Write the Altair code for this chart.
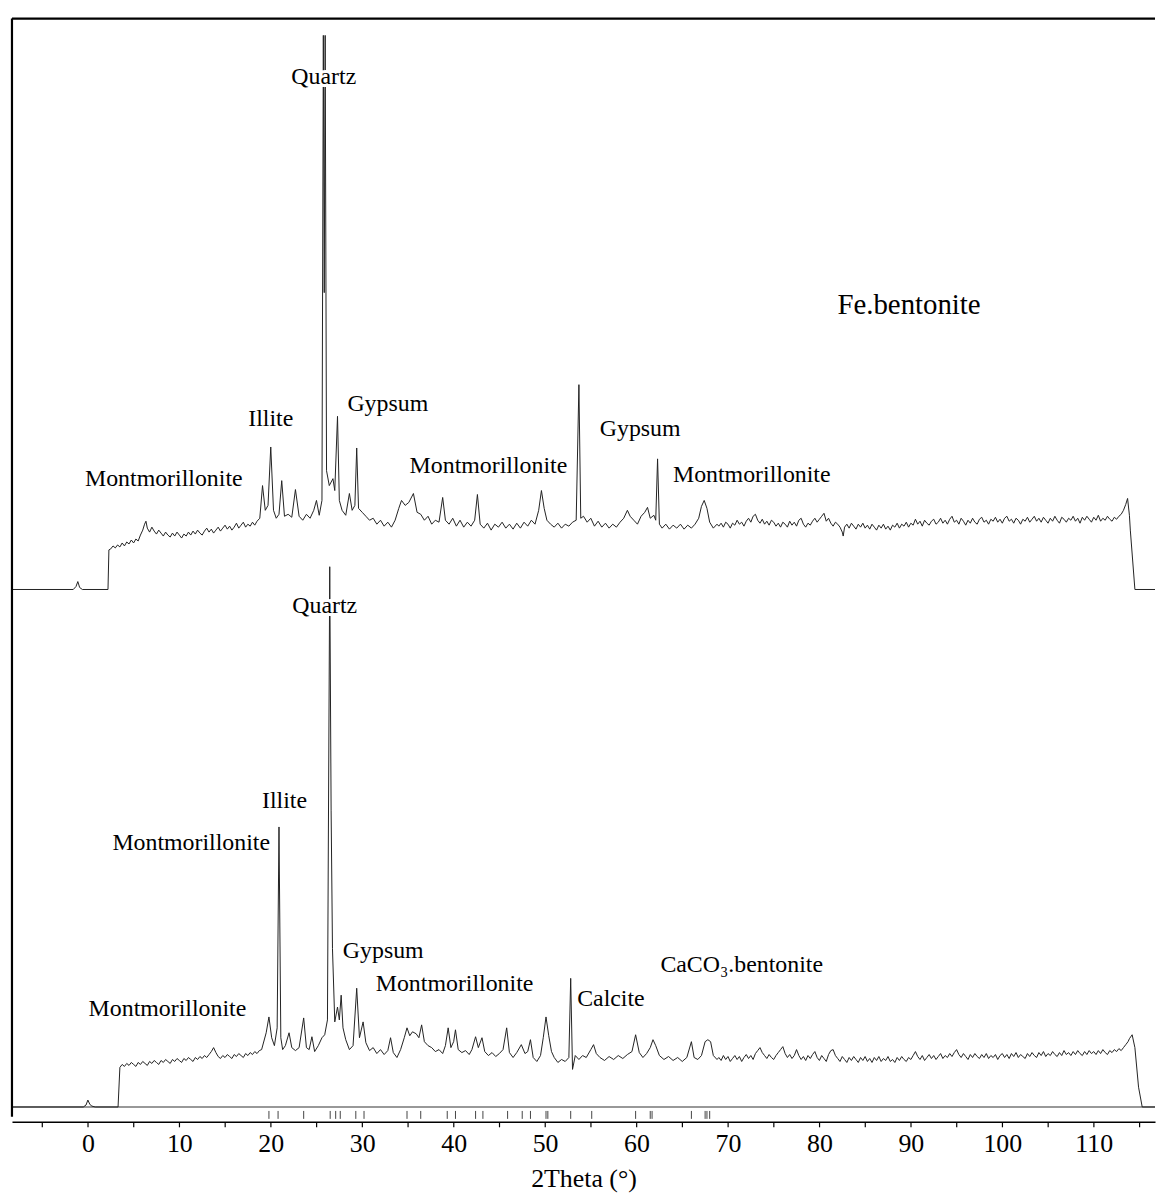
import altair as alt
import pandas as pd

# ---------------- data ----------------
# Fe.bentonite scan: (2theta, intensity above its own baseline)
fe_scan = [
    (-8.3, 0), (-1.6, 0), (-1.3, 3), (-1.1, 8), (-0.9, 2), (-0.6, 0), (2.2, 0),
    (2.3, 40), (2.5, 41), (2.75, 44), (3.0, 42), (3.25, 45), (3.5, 43), (3.75, 47), (4.0, 44),
    (4.25, 48), (4.5, 46), (4.75, 50), (5.0, 47), (5.25, 51), (5.5, 49), (5.75, 55), (6.0, 60),
    (6.2, 66), (6.35, 69), (6.5, 62), (6.75, 58), (7.0, 63), (7.25, 59), (7.5, 56), (7.75, 60),
    (8.0, 57), (8.25, 54), (8.5, 58), (8.75, 55), (9.0, 53), (9.25, 57), (9.5, 54), (9.75, 58),
    (10.0, 55), (10.25, 52), (10.5, 56), (10.75, 54), (11.0, 58), (11.25, 55), (11.5, 59),
    (11.75, 56), (12.0, 60), (12.25, 57), (12.5, 55), (12.75, 59), (13.0, 62), (13.25, 58),
    (13.5, 61), (13.75, 57), (14.0, 60), (14.25, 63), (14.5, 59), (14.75, 62), (15.0, 65),
    (15.25, 61), (15.5, 64), (15.75, 60), (16.0, 63), (16.25, 67), (16.5, 62), (16.75, 65),
    (17.0, 68), (17.25, 63), (17.5, 66), (17.75, 64), (18.0, 68), (18.25, 65), (18.5, 69),
    (18.8, 72), (19.1, 105),
    (19.4, 80), (19.7, 85), (20.0, 144), (20.3, 80), (20.6, 72), (20.9, 76), (21.2, 110),
    (21.5, 74), (21.9, 76), (22.3, 73), (22.7, 101), (23.1, 74), (23.5, 70), (23.9, 76),
    (24.3, 72), (24.7, 80), (25.0, 90), (25.3, 75), (25.6, 90), (25.75, 560), (25.85, 300),
    (25.95, 560), (26.1, 120), (26.4, 105), (26.8, 112), (27.0, 100), (27.3, 175), (27.5, 90),
    (27.8, 80), (28.2, 75), (28.6, 97), (28.9, 80), (29.2, 85), (29.4, 143), (29.6, 82),
    (30.0, 78), (30.4, 74), (30.8, 70), (31.2, 72), (31.6, 66), (32.0, 70), (32.4, 64),
    (32.8, 68), (33.2, 63), (33.6, 70), (34.0, 82), (34.3, 90), (34.7, 85), (35.1, 88),
    (35.6, 97), (36.0, 78), (36.4, 76), (36.8, 70), (37.2, 74), (37.6, 66), (38.0, 70),
    (38.4, 68), (38.8, 93), (39.1, 70), (39.5, 66), (39.9, 72), (40.3, 64), (40.7, 70),
    (41.1, 63), (41.5, 68), (41.9, 64), (42.3, 70), (42.6, 96), (42.9, 66), (43.3, 62),
    (43.7, 67), (44.1, 60), (44.5, 66), (44.9, 63), (45.3, 68), (45.7, 62), (46.1, 66),
    (46.5, 61), (46.9, 67), (47.3, 62), (47.7, 68), (48.1, 64), (48.5, 70), (48.9, 66),
    (49.3, 80), (49.6, 100), (49.9, 82), (50.2, 70), (50.6, 66), (51.0, 63), (51.4, 67),
    (51.8, 62), (52.2, 66), (52.6, 64), (53.0, 68), (53.4, 70), (53.7, 207), (53.9, 72),
    (54.2, 74), (54.6, 68), (55.0, 72), (55.4, 64), (55.8, 69), (56.2, 63), (56.6, 67),
    (57.0, 62), (57.4, 66), (57.8, 63), (58.2, 68), (58.6, 72), (59.0, 80), (59.3, 74),
    (59.7, 70), (60.1, 66), (60.5, 74), (60.9, 78), (61.2, 83), (61.5, 72), (61.9, 75),
    (62.1, 70), (62.3, 132), (62.5, 66), (62.8, 62), (63.2, 66), (63.6, 61), (64.0, 65),
    (64.4, 62), (64.8, 66), (65.2, 61), (65.6, 65), (66.0, 62), (66.4, 66), (66.8, 72),
    (67.1, 84), (67.4, 90), (67.7, 82), (68.0, 68), (68.4, 62), (68.8, 66),
    (69.0, 64), (69.25, 67), (69.5, 63), (69.75, 68), (70.0, 66), (70.25, 62), (70.5, 67),
    (70.75, 65), (71.0, 70), (71.25, 66), (71.5, 68), (71.75, 64), (72.0, 69), (72.25, 72),
    (72.5, 68), (72.75, 74), (73.0, 76), (73.25, 70), (73.5, 67), (73.75, 71), (74.0, 66),
    (74.25, 69), (74.5, 65), (74.75, 70), (75.0, 68), (75.25, 64), (75.5, 67), (75.75, 63),
    (76.0, 68), (76.25, 66), (76.5, 63), (76.75, 69), (77.0, 65), (77.25, 68), (77.5, 64),
    (77.75, 70), (78.0, 72), (78.25, 66), (78.5, 63), (78.75, 67), (79.0, 65), (79.25, 69),
    (79.5, 72), (79.75, 68), (80.0, 71), (80.25, 74), (80.5, 77), (80.75, 69), (81.0, 72),
    (81.25, 67), (81.5, 64), (81.75, 68), (82.0, 66), (82.25, 63), (82.5, 58), (82.6, 54),
    (82.75, 63), (83.0, 66), (83.25, 62), (83.5, 67), (83.75, 64), (84.0, 61), (84.25, 66),
    (84.5, 63), (84.75, 67), (85.0, 62), (85.25, 65), (85.5, 61), (85.75, 66), (86.0, 63),
    (86.25, 60), (86.5, 65), (86.75, 62), (87.0, 66), (87.25, 61), (87.5, 64), (87.75, 60),
    (88.0, 65), (88.25, 63), (88.5, 67), (88.75, 62), (89.0, 66), (89.25, 64), (89.5, 68),
    (89.75, 63), (90.0, 67), (90.25, 65), (90.5, 71), (90.75, 66), (91.0, 69), (91.25, 64),
    (91.5, 70), (91.75, 67), (92.0, 65), (92.25, 69), (92.5, 71), (92.75, 66), (93.0, 68),
    (93.25, 72), (93.5, 67), (93.75, 70), (94.0, 66), (94.25, 71), (94.5, 74), (94.75, 68),
    (95.0, 70), (95.25, 66), (95.5, 72), (95.75, 69), (96.0, 65), (96.25, 70), (96.5, 67),
    (96.75, 72), (97.0, 68), (97.25, 66), (97.5, 71), (97.75, 73), (98.0, 68), (98.25, 70),
    (98.5, 66), (98.75, 71), (99.0, 69), (99.25, 73), (99.5, 68), (99.75, 71), (100.0, 67),
    (100.25, 72), (100.5, 74), (100.75, 69), (101.0, 71), (101.25, 67), (101.5, 72),
    (101.75, 70), (102.0, 66), (102.25, 71), (102.5, 69), (102.75, 73), (103.0, 68),
    (103.25, 71), (103.5, 74), (103.75, 69), (104.0, 72), (104.25, 68), (104.5, 73),
    (104.75, 70), (105.0, 67), (105.25, 72), (105.5, 69), (105.75, 74), (106.0, 70),
    (106.25, 67), (106.5, 73), (106.75, 71), (107.0, 68), (107.25, 72), (107.5, 70),
    (107.75, 74), (108.0, 69), (108.25, 72), (108.5, 67), (108.75, 73), (109.0, 70),
    (109.25, 74), (109.5, 71), (109.75, 68), (110.0, 73), (110.25, 70), (110.5, 75),
    (110.75, 69), (111.0, 72), (111.25, 70), (111.5, 74), (111.75, 71), (112.0, 69),
    (112.25, 73), (112.5, 71), (112.75, 74), (113.0, 76), (113.25, 80), (113.5, 86),
    (113.7, 92), (113.9, 75), (114.0, 60), (114.5, 0), (116.7, 0),
]

# CaCO3.bentonite scan: (2theta, intensity above its own baseline)
ca_scan = [
    (-8.3, 0), (-0.5, 0), (-0.2, 2), (0.0, 7), (0.2, 3), (0.4, 1), (0.8, 0), (3.3, 0),
    (3.5, 40), (3.75, 43), (4.0, 41), (4.25, 44), (4.5, 42), (4.75, 45), (5.0, 43), (5.25, 41),
    (5.5, 45), (5.75, 43), (6.0, 46), (6.25, 44), (6.5, 42), (6.75, 46), (7.0, 44), (7.25, 47),
    (7.5, 45), (7.75, 43), (8.0, 47), (8.25, 45), (8.5, 48), (8.75, 46), (9.0, 44), (9.25, 48),
    (9.5, 46), (9.75, 49), (10.0, 47), (10.25, 45), (10.5, 49), (10.75, 47), (11.0, 50),
    (11.25, 48), (11.5, 46), (11.75, 50), (12.0, 48), (12.25, 51), (12.5, 49), (12.75, 52),
    (13.0, 50), (13.25, 53), (13.5, 56), (13.75, 60), (14.0, 55), (14.25, 51), (14.5, 49),
    (14.75, 52), (15.0, 50), (15.25, 53), (15.5, 51), (15.75, 49), (16.0, 53), (16.25, 51),
    (16.5, 54), (16.75, 52), (17.0, 50), (17.25, 54), (17.5, 52), (17.75, 55), (18.0, 53),
    (18.25, 56), (18.5, 54), (18.75, 57), (19.0, 58),
    (19.5, 75), (19.8, 91), (20.1, 70), (20.4, 62),
    (20.7, 80), (20.9, 283), (21.1, 70), (21.3, 58), (21.6, 62), (22.0, 75), (22.3, 60),
    (22.7, 57), (23.1, 60), (23.6, 90), (23.9, 60), (24.2, 58), (24.5, 71), (24.8, 56),
    (25.2, 62), (25.6, 70), (25.9, 73), (26.2, 88), (26.45, 546), (26.6, 300), (26.75, 160),
    (27.0, 86), (27.3, 101), (27.5, 88), (27.7, 113), (27.9, 80), (28.2, 68), (28.6, 58),
    (29.0, 62), (29.4, 120), (29.7, 70), (30.1, 86), (30.4, 65), (30.8, 57), (31.2, 60),
    (31.6, 54), (32.0, 58), (32.4, 53), (32.8, 57), (33.1, 70), (33.4, 55), (33.8, 50),
    (34.2, 58), (34.6, 70), (34.9, 80), (35.2, 72), (35.5, 76), (35.9, 74), (36.2, 70),
    (36.5, 83), (36.8, 66), (37.2, 62), (37.6, 60), (38.0, 56), (38.4, 58), (38.8, 54),
    (39.1, 62), (39.4, 80), (39.7, 60), (40.0, 66), (40.2, 78), (40.5, 58), (40.9, 55),
    (41.3, 57), (41.7, 53), (42.0, 58), (42.4, 71), (42.7, 60), (43.1, 70), (43.4, 56),
    (43.8, 52), (44.2, 55), (44.6, 51), (45.0, 54), (45.4, 58), (45.8, 80), (46.1, 55),
    (46.5, 50), (46.9, 55), (47.4, 63), (47.8, 54), (48.1, 56), (48.4, 68), (48.7, 50),
    (49.1, 46), (49.5, 52), (49.8, 70), (50.1, 91), (50.4, 72), (50.7, 56), (51.0, 50),
    (51.4, 45), (51.8, 48), (52.2, 46), (52.6, 50), (52.8, 130), (53.0, 38), (53.3, 52),
    (53.7, 48), (54.1, 52), (54.5, 50), (55.0, 58), (55.3, 63), (55.6, 54), (56.0, 50),
    (56.5, 47), (57.0, 51), (57.5, 48), (58.0, 52), (58.5, 49), (59.0, 53), (59.5, 56),
    (59.9, 73), (60.3, 55), (60.7, 50), (61.1, 54), (61.5, 60), (61.8, 68), (62.1, 62),
    (62.5, 52), (63.0, 48), (63.5, 51), (64.0, 47), (64.5, 50), (65.0, 46), (65.5, 50),
    (66.0, 66), (66.3, 50), (66.7, 48), (67.1, 52), (67.5, 66), (67.8, 68), (68.1, 66),
    (68.4, 52), (68.8, 48),
    (69.0, 50), (69.25, 47), (69.5, 52), (69.75, 48), (70.0, 51), (70.25, 46), (70.5, 49),
    (70.75, 52), (71.0, 48), (71.25, 51), (71.5, 46), (71.75, 50), (72.0, 53), (72.25, 49),
    (72.5, 52), (72.75, 48), (73.0, 54), (73.25, 57), (73.5, 60), (73.75, 55), (74.0, 52),
    (74.25, 49), (74.5, 53), (74.75, 50), (75.0, 48), (75.25, 52), (75.5, 55), (75.75, 58),
    (76.0, 61), (76.25, 54), (76.5, 50), (76.75, 53), (77.0, 49), (77.25, 52), (77.5, 58),
    (77.75, 52), (78.0, 48), (78.25, 51), (78.5, 47), (78.75, 52), (79.0, 49), (79.25, 53),
    (79.5, 56), (79.75, 50), (80.0, 47), (80.25, 52), (80.5, 49), (80.75, 46), (81.0, 53),
    (81.25, 57), (81.5, 58), (81.75, 52), (82.0, 49), (82.25, 46), (82.5, 51), (82.75, 48),
    (83.0, 45), (83.25, 50), (83.5, 47), (83.75, 51), (84.0, 48), (84.25, 45), (84.5, 50),
    (84.75, 47), (85.0, 51), (85.25, 46), (85.5, 49), (85.75, 45), (86.0, 50), (86.25, 47),
    (86.5, 51), (86.75, 46), (87.0, 49), (87.25, 47), (87.5, 51), (87.75, 46), (88.0, 48),
    (88.25, 45), (88.5, 50), (88.75, 47), (89.0, 51), (89.25, 48), (89.5, 46), (89.75, 50),
    (90.0, 48), (90.25, 52), (90.5, 56), (90.75, 51), (91.0, 48), (91.25, 52), (91.5, 47),
    (91.75, 50), (92.0, 53), (92.25, 49), (92.5, 52), (92.75, 48), (93.0, 51), (93.25, 54),
    (93.5, 49), (93.75, 52), (94.0, 50), (94.25, 54), (94.5, 51), (94.75, 55), (95.0, 58),
    (95.25, 53), (95.5, 50), (95.75, 54), (96.0, 51), (96.25, 48), (96.5, 53), (96.75, 50),
    (97.0, 54), (97.25, 51), (97.5, 49), (97.75, 53), (98.0, 50), (98.25, 54), (98.5, 49),
    (98.75, 52), (99.0, 50), (99.25, 53), (99.5, 48), (99.75, 52), (100.0, 54), (100.25, 50),
    (100.5, 53), (100.75, 49), (101.0, 54), (101.25, 51), (101.5, 55), (101.75, 50),
    (102.0, 53), (102.25, 51), (102.5, 49), (102.75, 54), (103.0, 51), (103.25, 55),
    (103.5, 52), (103.75, 50), (104.0, 55), (104.25, 52), (104.5, 56), (104.75, 51),
    (105.0, 54), (105.25, 52), (105.5, 56), (105.75, 53), (106.0, 51), (106.25, 55),
    (106.5, 52), (106.75, 57), (107.0, 53), (107.25, 55), (107.5, 52), (107.75, 56),
    (108.0, 53), (108.25, 57), (108.5, 54), (108.75, 52), (109.0, 56), (109.25, 53),
    (109.5, 57), (109.75, 54), (110.0, 56), (110.25, 53), (110.5, 57), (110.75, 54),
    (111.0, 58), (111.25, 55), (111.5, 53), (111.75, 57), (112.0, 55), (112.25, 58),
    (112.5, 56), (112.75, 59), (113.0, 57), (113.25, 60), (113.5, 63), (113.75, 66),
    (113.9, 69), (114.2, 73), (114.5, 60), (114.9, 20), (115.3, 0), (116.7, 0),
]

# reference-pattern stick positions (2theta)
stick_theta = [19.8, 20.8, 23.6, 26.5, 27.1, 27.6, 29.3, 30.2, 34.9, 36.4, 39.3, 40.2,
               42.4, 43.2, 45.9, 47.5, 48.4, 50.1, 50.3, 52.8, 55.1, 59.9, 61.5, 61.7,
               66.0, 67.5, 67.7, 68.0]

# vertical stacking offsets of the two patterns and the stick band
fe_offset = 538
ca_offset = 15
stick_low, stick_high = 3, 11

# annotations: text, 2theta, height, font size
label_text = ["Quartz", "Fe.bentonite", "Illite", "Gypsum", "Montmorillonite",
              "Montmorillonite", "Gypsum", "Montmorillonite",
              "Quartz", "Illite", "Montmorillonite", "Gypsum", "Montmorillonite",
              "Calcite", "Montmorillonite", "CaCO\u2083.bentonite"]
label_theta = [25.8, 89.8, 20.0, 32.8, 8.3, 43.8, 60.4, 72.6,
               25.9, 21.5, 11.3, 32.3, 40.1, 57.2, 8.7, 71.5]
label_height = [1056, 825, 710, 725, 650, 663, 700, 654,
                521, 324, 282, 173, 139, 124, 114, 158]
label_size = [24, 29, 24, 24, 24, 24, 24, 24,
              24, 24, 24, 24, 24, 24, 24, 24]

tick_values = list(range(-5, 120, 5))
x_domain = [-8.3, 116.7]
y_domain = [0, 1115]

# ---------------- tables ----------------
fe_df = pd.DataFrame({"theta": [p[0] for p in fe_scan], "counts": [p[1] for p in fe_scan]})
ca_df = pd.DataFrame({"theta": [p[0] for p in ca_scan], "counts": [p[1] for p in ca_scan]})
stick_df = pd.DataFrame({"theta": stick_theta, "lo": stick_low, "hi": stick_high})
lab_df = pd.DataFrame({"text": label_text, "theta": label_theta,
                       "h": label_height, "size": label_size})
base_df = pd.DataFrame({"h": [ca_offset]})

FONT = "Liberation Serif"
PLOT_H = 1110

x_axis = alt.Axis(values=tick_values, format="d",
                  labelExpr="datum.value % 10 === 0 ? datum.label : ''",
                  title="2Theta (°)", grid=False, domainColor="black", domainWidth=1.5,
                  tickColor="black", tickSize=5, tickWidth=1.2,
                  labelFont=FONT, labelFontSize=26, labelColor="black", labelPadding=4,
                  labelFlush=False, labelOverlap=False,
                  titleFont=FONT, titleFontSize=26, titleFontWeight="normal",
                  titleColor="black", titlePadding=9)
x_scale = alt.Scale(domain=x_domain, nice=False, zero=False)
y_scale = alt.Scale(domain=y_domain, nice=False, zero=False)


def X(field):
    return alt.X(field, type="quantitative", scale=x_scale, axis=x_axis)


def Y(field):
    return alt.Y(field, type="quantitative", scale=y_scale, axis=None)


fe_line = alt.Chart(fe_df).transform_calculate(
    y=f"datum.counts + {fe_offset}"
).mark_line(color="#222222", strokeWidth=1, clip=True).encode(x=X("theta"), y=Y("y"))

ca_line = alt.Chart(ca_df).transform_calculate(
    y=f"datum.counts + {ca_offset}"
).mark_line(color="#222222", strokeWidth=1, clip=True).encode(x=X("theta"), y=Y("y"))

sticks = alt.Chart(stick_df).mark_rule(color="#444444", strokeWidth=1).encode(
    x=X("theta"), y=Y("lo"), y2="hi")

base_rule = alt.Chart(base_df).mark_rule(color="#333333", strokeWidth=1.2).encode(y=Y("h"))

frame_top = alt.Chart(base_df).mark_rule(color="black", strokeWidth=2.2).encode(
    y=alt.value(0))
frame_left = alt.Chart(base_df).mark_rule(color="black", strokeWidth=2.2).encode(
    x=alt.value(0), y=alt.value(0), y2=alt.value(PLOT_H - 5))

halo = alt.Chart(lab_df).mark_text(font=FONT, align="center", baseline="middle",
                                   stroke="white", strokeWidth=6, fill="white").encode(
    x=X("theta"), y=Y("h"), text="text:N", size=alt.Size("size:Q", scale=None, legend=None))
labels = alt.Chart(lab_df).mark_text(font=FONT, align="center", baseline="middle",
                                     color="black").encode(
    x=X("theta"), y=Y("h"), text="text:N", size=alt.Size("size:Q", scale=None, legend=None))

chart = alt.layer(
    base_rule, sticks, fe_line, ca_line, halo, labels, frame_top, frame_left
).properties(
    width=1150, height=PLOT_H,
    padding={"left": 2, "top": 5, "right": 0, "bottom": 0},
    background="white",
).configure_view(stroke=None)

chart.save("out.html", embed_options={"renderer": "svg", "actions": False})
